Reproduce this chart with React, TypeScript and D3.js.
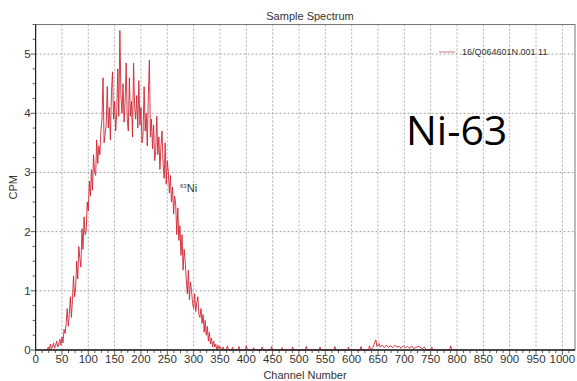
import React from "react";
import * as d3 from "d3";

const title = "Sample Spectrum";
const xLabel = "Channel Number";
const yLabel = "CPM";
const legendLabel = "16/Q064601N.001 11";
const bigLabel = "Ni-63";

const xTicks = [0, 50, 100, 150, 200, 250, 300, 350, 400, 450, 500, 550, 600, 650, 700, 750, 800, 850, 900, 950, 1000];
const yTicks = [0, 1, 2, 3, 4, 5];

// main peak, channels 20..350 step 2
const peakStart = 20;
const peakStep = 2;
const peakValues = [
  0, 0, 0.05, 0, 0.1, 0.02, 0.05, 0.12, 0.03, 0.08,
  0.15, 0.05, 0.1, 0.18, 0.08, 0.22, 0.12, 0.35, 0.28, 0.45,
  0.7, 0.4, 0.6, 0.9, 0.55, 0.85, 1.25, 0.9, 1.05, 1.5,
  1.2, 1.75, 1.55, 1.4, 2.05, 1.7, 2.25, 1.95, 2.0, 2.5,
  2.35, 2.85, 2.6, 3.05, 2.7, 3.3, 3.0, 2.95, 3.55, 3.15,
  3.45, 3.3, 3.7, 3.9, 4.6, 3.5, 3.65, 3.8, 4.45, 3.75,
  4.1, 3.55, 4.35, 4.7, 3.9, 4.2, 3.7, 4.0, 4.75, 3.95,
  5.4, 4.3, 4.0, 4.5, 3.85, 4.2, 4.85, 3.9, 3.7, 4.6,
  3.95, 4.2, 3.6, 4.85, 4.1, 3.9, 4.3, 3.75, 4.55, 3.8,
  4.1, 3.5, 3.65, 4.45, 3.7, 4.0, 3.45, 4.3, 4.9, 3.6,
  3.9, 3.4, 3.8, 3.2, 3.35, 3.95, 3.3, 3.6, 3.05, 3.45,
  3.7, 3.15, 2.9, 3.5, 2.8, 3.2, 3.0, 2.65, 2.95, 2.5,
  2.75, 2.3, 2.6, 2.45, 1.95, 2.4, 1.85, 2.1, 1.6, 1.95,
  1.35, 1.7, 1.5, 1.2, 0.95, 1.35, 0.85, 1.15, 1.0, 0.8,
  0.7, 0.95, 0.65, 0.8, 0.9, 0.6, 0.55, 0.7, 0.45, 0.6,
  0.3, 0.5, 0.25, 0.4, 0.15, 0.3, 0.1, 0.2, 0.05, 0.15,
  0.05, 0.1, 0, 0.08, 0.02, 0.06
];

// sparse tail blips
const tailChannels = [354, 356, 358, 362, 364, 366, 372, 374, 376, 384, 386, 388, 398, 400, 402, 412, 414, 416, 428, 430, 432, 446, 448, 450, 466, 468, 470, 486, 488, 490, 512, 514, 516, 538, 540, 542, 566, 568, 570, 592, 594, 596, 616, 618, 620, 632, 634, 636, 640, 642, 646, 648, 652, 654, 658, 662, 666, 670, 674, 678, 682, 686, 690, 694, 698, 702, 706, 710, 714, 718, 722, 728, 734, 738, 742, 750, 752, 754, 786, 788, 790, 800];
const tailValues = [0, 0.05, 0, 0, 0.07, 0, 0, 0.05, 0, 0, 0.06, 0, 0, 0.07, 0, 0, 0.04, 0, 0, 0.05, 0, 0, 0.06, 0, 0, 0.04, 0, 0, 0.05, 0, 0, 0.06, 0, 0, 0.05, 0, 0, 0.06, 0, 0, 0.05, 0, 0, 0.06, 0, 0, 0.07, 0, 0.04, 0.09, 0.17, 0.06, 0.11, 0.05, 0.08, 0.04, 0.08, 0.05, 0.07, 0.04, 0.08, 0.05, 0.06, 0.03, 0.07, 0.04, 0.06, 0.03, 0.07, 0.02, 0.05, 0.06, 0.02, 0.05, 0, 0, 0.05, 0, 0, 0.07, 0, 0];

const W = 577;
const H = 381;
const left = 35.6;
const right = 575;
const top = 24.5;
const bottom = 350;

export default function App() {
  const x = d3.scaleLinear().domain([0, 1024]).range([left, right]);
  const y = d3.scaleLinear().domain([0, 5.5]).range([bottom, top]);

  const pts: [number, number][] = [];
  peakValues.forEach((v, i) => pts.push([peakStart + i * peakStep, v]));
  tailChannels.forEach((c, i) => pts.push([c, tailValues[i]]));
  const line = d3
    .line<[number, number]>()
    .x((d) => x(d[0]))
    .y((d) => y(d[1]));

  const minorX = d3.range(0, 1025, 12.5);
  const minorY = d3.range(0, 5.51, 0.25);
  const font = "'Liberation Sans', Arial, sans-serif";

  return (
    <svg width={W} height={H} style={{ position: "absolute", left: 0, top: 0, background: "#fff" }}>
      <rect x={0} y={0} width={W} height={H} fill="#fff" />
      {/* grid */}
      {xTicks.filter((t) => t > 0).map((t) => (
        <line key={"gx" + t} x1={x(t)} x2={x(t)} y1={top} y2={bottom} stroke="#9a9a9a" strokeWidth={0.8} strokeDasharray="2,2" />
      ))}
      {yTicks.filter((t) => t > 0).map((t) => (
        <line key={"gy" + t} x1={left} x2={right} y1={y(t)} y2={y(t)} stroke="#8a8a8a" strokeWidth={0.8} strokeDasharray="2,2" />
      ))}
      {/* frame */}
      <rect x={left} y={top} width={right - left} height={bottom - top} fill="none" stroke="#777" strokeWidth={1} />
      {/* data */}
      <path d={line(pts) || ""} fill="none" stroke="#cf2533" strokeWidth={0.9} strokeLinejoin="round" />
      {/* axes */}
      <line x1={left} x2={right} y1={bottom} y2={bottom} stroke="#222" strokeWidth={1.5} />
      <line x1={left} x2={left} y1={top} y2={bottom} stroke="#222" strokeWidth={1.2} />
      {minorX.map((t) => (
        <line key={"mx" + t} x1={x(t)} x2={x(t)} y1={bottom} y2={bottom + (t % 50 === 0 ? 5 : 3)} stroke="#333" strokeWidth={0.8} />
      ))}
      {minorY.map((t) => (
        <line key={"my" + t} x1={left} x2={left - (t % 1 === 0 ? 5 : 3)} y1={y(t)} y2={y(t)} stroke="#333" strokeWidth={0.8} />
      ))}
      {xTicks.map((t) => (
        <text key={"xl" + t} x={x(t)} y={bottom + 13} textAnchor="middle" fontFamily={font} fontSize={11.5} fill="#333">
          {t}
        </text>
      ))}
      {yTicks.map((t) => (
        <text key={"yl" + t} x={left - 5} y={y(t) + 4} textAnchor="end" fontFamily={font} fontSize={11.5} fill="#333">
          {t}
        </text>
      ))}
      <text x={310} y={20} textAnchor="middle" fontFamily={font} fontSize={11} fill="#333">
        {title}
      </text>
      <text x={305} y={379} textAnchor="middle" fontFamily={font} fontSize={11} fill="#333">
        {xLabel}
      </text>
      <text transform={`translate(17,${(top + bottom) / 2}) rotate(-90)`} textAnchor="middle" fontFamily={font} fontSize={11} fill="#333">
        {yLabel}
      </text>
      {/* legend */}
      <line x1={439} x2={455} y1={52} y2={52} stroke="#d98a8a" strokeWidth={1.2} />
      <text x={462} y={55} fontFamily={font} fontSize={9} fill="#333">
        {legendLabel}
      </text>
      {/* annotation */}
      <text x={180} y={192} fontFamily={font} fontSize={11} fill="#333">
        <tspan fontSize={6} dy={-4}>63</tspan>
        <tspan dy={4}>Ni</tspan>
      </text>
      <text x={406} y={145} fontFamily="'Open Sans', 'Noto Sans', sans-serif" fontSize={41} fill="#000">
        {bigLabel}
      </text>
    </svg>
  );
}
